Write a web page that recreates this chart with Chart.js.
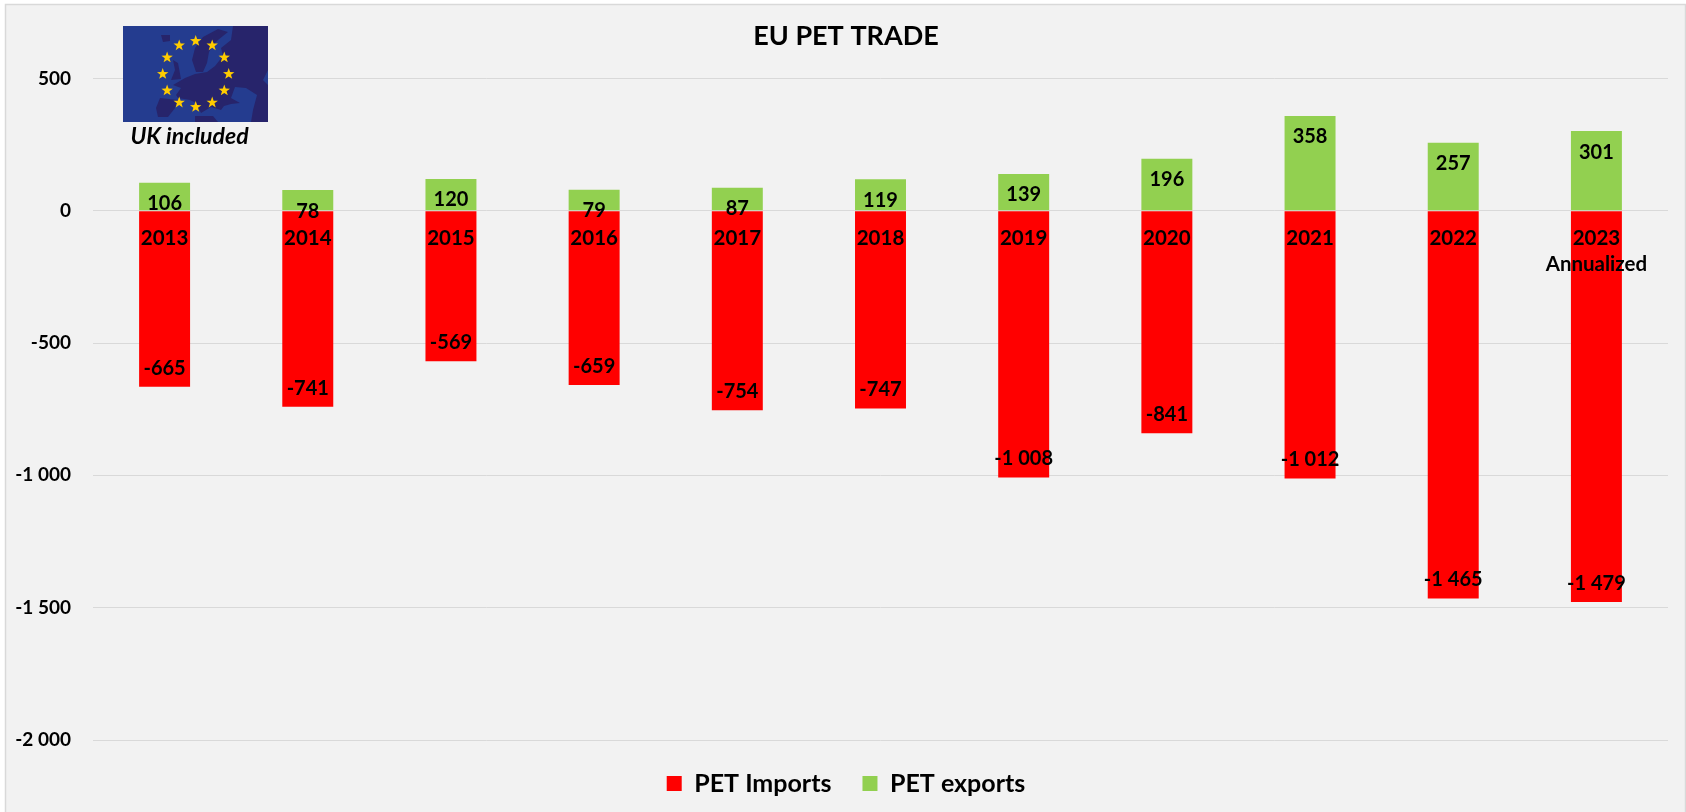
<!DOCTYPE html>
<html>
<head>
<meta charset="utf-8">
<title>EU PET TRADE</title>
<script src="https://cdn.jsdelivr.net/npm/chart.js@4/dist/chart.umd.min.js"></script>
<style>
  html, body { margin: 0; padding: 0; background: #fff; }
  #chartWrap { width: 1686px; height: 812px; }
</style>
</head>
<body>
<div id="chartWrap"><canvas id="tradeChart" width="1686" height="812"></canvas></div>
<script>
const categories = ["2013", "2014", "2015", "2016", "2017", "2018", "2019", "2020", "2021", "2022", ["2023", "Annualized"]];
const petImports = [-665, -741, -569, -659, -754, -747, -1008, -841, -1012, -1465, -1479];
const petExports = [106, 78, 120, 79, 87, 119, 139, 196, 358, 257, 301];

const FONT = "Lato, 'Noto Sans', sans-serif";
const BLACK = "#000000";

// "1 465" style numbers, same as the source
function formatValue(v) {
  const abs = Math.abs(v).toString().replace(/\B(?=(\d{3})+$)/g, " ");
  return (v < 0 ? "-" : "") + abs;
}

// Panel background and thin frame
const panelPlugin = {
  id: "panel",
  // tick labels are clipped to the scale box, so let it reach the canvas edge
  afterLayout(chart) {
    chart.scales.y.left = 0;
  },
  beforeDraw(chart) {
    const ctx = chart.ctx;
    ctx.save();
    ctx.fillStyle = "#f2f2f2";
    ctx.fillRect(6, 5, 1679, 807);
    ctx.strokeStyle = "#d9d9d9";
    ctx.lineWidth = 1.5;
    ctx.strokeRect(5.5, 4.5, 1680, 810);
    ctx.restore();
  }
};

// Value labels sit a fixed distance inside the end of each bar
const barLabelPlugin = {
  id: "barLabels",
  afterDatasetsDraw(chart) {
    const ctx = chart.ctx;
    ctx.save();
    ctx.font = "bold 20px " + FONT;
    ctx.fillStyle = BLACK;
    ctx.textAlign = "center";
    ctx.textBaseline = "middle";
    chart.data.datasets.forEach((ds, i) => {
      chart.getDatasetMeta(i).data.forEach((bar, j) => {
        const v = ds.data[j];
        const y = v < 0 ? bar.y - 18.5 : bar.y + 21;
        ctx.fillText(formatValue(v), bar.x, y);
      });
    });
    ctx.restore();
  }
};

// Europe picture in the top left corner, with its caption
const flagPlugin = {
  id: "flag",
  afterDraw(chart) {
    const ctx = chart.ctx;
    const fx = 123, fy = 26, fw = 145, fh = 96;
    ctx.save();
    ctx.fillStyle = "#243c8f";
    ctx.fillRect(fx, fy, fw, fh);

    ctx.beginPath();
    ctx.rect(fx, fy, fw, fh);
    ctx.clip();

    // rough land shapes, in flag pixels
    const land = [
      [[110,0],[145,0],[145,44],[140,54],[145,59],[145,96],[128,96],[130,84],[134,69],[123,62],[112,61],[108,72],[117,77],[108,78],[101,80],[98,84],[88,81],[78,87],[73,77],[67,74],[55,72],[53,69],[58,62],[50,59],[62,52],[72,48],[84,46],[92,40],[100,30],[98,22],[108,14]],
      [[69,34],[72,22],[80,11],[95,3],[105,6],[95,14],[90,19],[86,26],[84,37],[80,46],[73,46]],
      [[37,72],[55,74],[52,82],[45,91],[35,91],[33,82]],
      [[50,34],[55,37],[58,53],[48,54],[52,44]],
      [[38,9],[47,9],[47,15],[40,16]],
      [[72,90],[90,90],[95,96],[72,96]]
    ];
    ctx.fillStyle = "#27246b";
    land.forEach(shape => {
      ctx.beginPath();
      shape.forEach((p, i) => {
        if (i === 0) ctx.moveTo(fx + p[0], fy + p[1]);
        else ctx.lineTo(fx + p[0], fy + p[1]);
      });
      ctx.closePath();
      ctx.fill();
    });

    // ring of twelve stars
    ctx.fillStyle = "#ffcc00";
    for (let s = 0; s < 12; s++) {
      const a = s * Math.PI / 6;
      const cx = fx + 72.7 + 33 * Math.sin(a);
      const cy = fy + 48 - 33 * Math.cos(a);
      ctx.beginPath();
      for (let k = 0; k < 10; k++) {
        const r = k % 2 === 0 ? 6 : 2.4;
        const t = k * Math.PI / 5;
        const px = cx + r * Math.sin(t);
        const py = cy - r * Math.cos(t);
        if (k === 0) ctx.moveTo(px, py);
        else ctx.lineTo(px, py);
      }
      ctx.closePath();
      ctx.fill();
    }
    ctx.restore();

    ctx.save();
    ctx.font = "italic bold 23px " + FONT;
    ctx.fillStyle = BLACK;
    ctx.textAlign = "center";
    ctx.textBaseline = "middle";
    ctx.fillText("UK included", 189.5, 137);
    ctx.restore();
  }
};

new Chart(document.getElementById("tradeChart"), {
  type: "bar",
  data: {
    labels: categories,
    datasets: [
      { label: "PET Imports", data: petImports, backgroundColor: "#ff0000", barPercentage: 0.356, categoryPercentage: 1 },
      { label: "PET exports", data: petExports, backgroundColor: "#92d050", barPercentage: 0.356, categoryPercentage: 1 }
    ]
  },
  options: {
    responsive: false,
    animation: false,
    // left padding also nudges the title and legend to the right, like the source
    layout: { padding: { left: 24, right: 18, top: 0, bottom: 6 } },
    plugins: {
      title: {
        display: true,
        text: "EU PET TRADE",
        color: BLACK,
        font: { family: FONT, size: 27, weight: "bold" },
        padding: { top: 20, bottom: 26 }
      },
      legend: {
        position: "bottom",
        labels: {
          color: BLACK,
          font: { family: FONT, size: 25, weight: "bold" },
          boxWidth: 15,
          boxHeight: 15,
          padding: 31
        }
      },
      tooltip: { enabled: false }
    },
    scales: {
      x: {
        stacked: true,
        position: { y: 0 },
        grid: { display: false },
        border: { display: false },
        ticks: {
          color: BLACK,
          font: { family: FONT, size: 20.5, weight: "bold", lineHeight: 1.27 },
          padding: 7,
          maxRotation: 0,
          autoSkip: false,
          z: 1
        }
      },
      y: {
        stacked: true,
        min: -2000,
        max: 500,
        grid: { color: "#d9d9d9", lineWidth: 1, drawTicks: false },
        border: { display: false },
        ticks: {
          stepSize: 500,
          color: BLACK,
          font: { family: FONT, size: 19, weight: "bold" },
          padding: 22,
          callback: v => formatValue(v)
        },
        afterFit(scale) { scale.width = 69; }
      }
    }
  },
  plugins: [panelPlugin, barLabelPlugin, flagPlugin]
});
</script>
</body>
</html>
